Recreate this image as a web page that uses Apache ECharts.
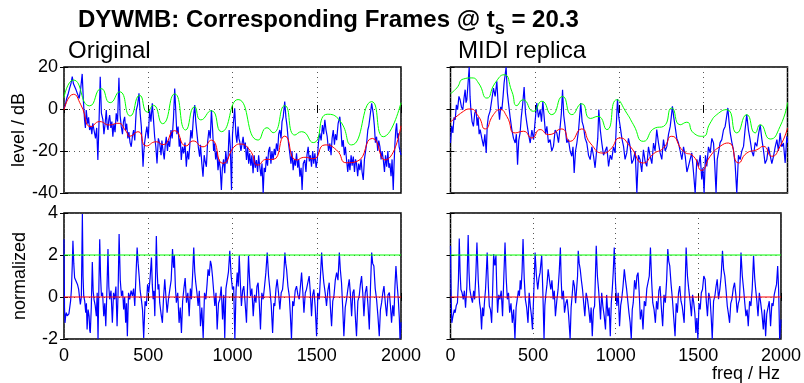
<!DOCTYPE html>
<html>
<head>
<meta charset="utf-8">
<script src="https://cdn.jsdelivr.net/npm/echarts@6/dist/echarts.min.js"></script>
<style>
  html, body { margin: 0; padding: 0; background: #fff; }
  #chart { width: 804px; height: 383px; }
</style>
</head>
<body>
<div id="chart"></div>
<script>
// ---- data: [freq Hz, value] ----
// original, level in dB (blue)
const origLevel = [[0,0.3],[8,2],[16,5],[24,7],[33,9.8],[41,12],[49,15.4],[56,12],[63,11.4],[72,9],[82,8.3],[90,5],[98,9],[108,16.7],[115,4],[122,-5.2],[127,-9],[132,-0.5],[140,-7],[146,-4],[152,-10],[160,-8],[165,-12],[171,-6.8],[178,-10],[187,-14],[194,-9],[201,-24.3],[208,-6],[215,15.4],[222,-2],[231,-5.2],[237,-12],[244,-7],[251,-0.5],[256,-8],[261,-10],[266,-5],[271,-2.9],[278,-9],[284,-6],[290,-13.2],[296,-7],[303,-11],[310,-2.1],[318,-6],[326,14.9],[333,-3],[340,-8.4],[347,-12],[353,-6],[360,-3.7],[366,-10],[372,-7],[379,-14],[385,-11],[392,-16],[399,-18],[406,-13],[413,-10],[420,-15],[425,-6],[429,-0.5],[437,2],[445,7.5],[452,-2],[459,-8.4],[464,-18],[469,-27.5],[474,-20],[478,-16.4],[485,-12],[492,-8.4],[500,-14],[508,-0.5],[516,-6],[524,2.7],[531,-5],[538,-13.2],[545,-18],[552,-25.9],[560,-14],[568,-16.4],[576,-22],[581,-15],[587,-19.5],[595,-24],[601,-17],[607,-13.2],[614,-20],[620,-15],[627,-18],[635,-10],[642,-14],[650,-4],[657,9.8],[664,-2],[670,-12],[677,-8.4],[684,-18],[690,-14],[696,-24.3],[703,-18],[710,-21.1],[718,-16],[726,-27.5],[733,-20],[740,-24],[746,-18],[753,-10],[760,-14],[768,-4],[776,1.9],[782,-6],[789,-11.6],[797,-18],[805,-22.7],[810,-17],[818,-26],[825,-32.2],[832,-22],[838,-25],[845,-27.5],[852,-16],[860,-10],[868,-14],[875,-0.5],[882,-10],[888,-20],[894,-16.4],[900,-24],[907,-20],[914,-29.1],[920,-24],[927,-28],[934,-38.6],[940,-28],[947,-24],[954,-30.6],[960,-20],[967,-26],[974,-22.7],[980,-10],[987,-18],[994,-38.6],[1000,-12],[1006,-6],[1013,0.3],[1020,-12],[1026,-16],[1033,-8.4],[1038,-14],
  [1043,-15.6],[1050,-20],[1056,-17],[1063,-13.2],[1070,-19],[1076,-16],[1083,-24.3],[1090,-18],[1096,-26],[1102,-21.1],[1109,-27],[1115,-22],[1122,-30.6],[1129,-22],[1135,-28],[1142,-24.3],[1149,-30],[1155,-22],[1162,-27.5],[1169,-32],[1175,-26],[1182,-40],[1188,-28],[1195,-30],[1201,-22.7],[1208,-27],[1214,-20],[1221,-18],[1228,-26],[1234,-20],[1241,-24.3],[1248,-19],[1254,-22],[1261,-16.4],[1268,-20],[1274,-12],[1281,-10],[1288,-14],[1294,-6],[1301,-3.7],[1310,3.5],[1317,-4],[1324,-8.4],[1332,-16],[1340,-21.1],[1347,-26],[1353,-20],[1360,-29.1],[1367,-24],[1373,-27],[1380,-21.1],[1387,-28],[1393,-24],[1400,-32.2],[1407,-28],[1413,-38.6],[1420,-26],[1429,-24.3],[1436,-30],[1442,-22],[1449,-18],[1456,-25],[1462,-22],[1469,-27.5],[1476,-20],[1482,-26],[1489,-21.1],[1496,-28],[1503,-24.3],[1510,-16],[1518,-11.6],[1526,-15],[1534,-7.6],[1541,-12],[1548,-5.2],[1555,-10],[1562,-13.2],[1570,-20],[1578,-16.4],[1585,-22],[1591,-14],[1598,-10],[1605,-17],[1611,-12],[1618,-14.8],[1627,-6.8],[1637,-3.7],[1644,-10],[1650,-18],[1657,-14.8],[1664,-22],[1670,-18],[1677,-24.3],[1684,-30],[1690,-24],[1697,-29.1],[1704,-22],[1710,-27],[1717,-22.7],[1724,-30],[1730,-24],[1736,-25.9],[1743,-32],[1749,-26],[1756,-29.1],[1763,-24],[1769,-30],[1776,-33.8],[1783,-24],[1790,-20],[1796,-16.4],[1803,-10],[1809,-8],[1816,-3.7],[1826,2.7],[1835,-2.1],[1842,-8],[1848,-16],[1855,-13.2],[1862,-20],[1868,-15],[1875,-18],[1882,-24],[1888,-20],[1895,-24.3],[1902,-30],[1908,-22],[1915,-27.5],[1922,-20],[1928,-28],[1934,-25.9],[1941,-32],[1947,-24],[1954,-38.6],[1959,-26],[1964,-16.4],[1969,-10],[1974,-6.8],[1979,-14],[1984,-11.6],[1989,-18],[1994,-18],[2000,-22]];
// original, upper envelope (green) and smoothed level (red)
const origEnvelope = [[0,5.5],[56,13.8],[152,1.5],[221,9.7],[274,3],[330,8.2],[393,-3.3],[449,6.5],[495,-1.5],[530,1.8],[585,-7],[657,7.2],[722,-10],[775,1.1],[812,-5.2],[874,-0.8],[934,-10.8],[1033,4.5],[1152,-14.8],[1205,-8.9],[1241,-11.3],[1310,1.6],[1370,-12.4],[1410,-10.8],[1479,-16],[1562,-2.5],[1637,-5.5],[1707,-17.1],[1826,3.5],[1895,-13.2],[2000,3]];
const origSmooth = [[0,-0.5],[56,7],[100,2],[162,-8.4],[211,-6],[270,-7.6],[320,-6.8],[370,-10.8],[389,-13],[439,-10.8],[489,-17.6],[547,-15.6],[587,-17],[656,-10.3],[725,-17.6],[765,-15.2],[825,-18],[874,-14.8],[943,-25.9],[1023,-17.1],[1043,-16.7],[1102,-19.5],[1152,-26.7],[1201,-24],[1241,-24],[1310,-12.9],[1380,-24.3],[1430,-23],[1479,-23.7],[1549,-17.1],[1617,-19.5],[1677,-25.6],[1737,-25],[1830,-14],[1905,-24.3],[2000,-8]];

// MIDI replica, level in dB (blue)
const replLevel = [[0,-16.2],[7,-8],[14,-11.4],[21,-4],[28,-5.1],[35,2],[42,-0.3],[50,6],[57,4.4],[65,1],[73,-0.3],[80,5],[87,9.2],[92,3],[97,4.4],[104,12],[111,20],[116,6],[121,-0.3],[128,-6],[136,-8.3],[144,-2],[152,-0.3],[158,-8],[164,-4],[170,-12],[176,-9.8],[186,-14],[196,-17.8],[204,-12],[212,-20.9],[218,-8],[225,-3.5],[235,-1],[245,4.4],[255,10],[265,6],[275,13.2],[283,2],[291,-5.1],[298,1],[305,-0.3],[312,6],[318,12.4],[324,16],[330,20],[337,8],[344,2.9],[354,-4],[364,-9.8],[374,-14],[384,-16.2],[391,-12],[398,-26.5],[405,-15],[413,-11.4],[420,-4],[428,2],[437,10.5],[445,-2],[453,-6.7],[463,-12],[473,-16.2],[483,-10],[493,-14.6],[502,-6],[512,2.8],[522,-4],[532,-0.3],[540,-6],[548,3.7],[556,-4],[564,-12],[572,-8.3],[581,-16],[591,-14.6],[601,-20],[611,-17.8],[621,-10],[631,-11.4],[641,-16],[651,-8.3],[658,-2],[665,9.2],[672,-3],[680,-8.3],[690,-16],[700,-14.6],[710,-20],[720,-22.5],[727,-18],[734,-30.5],[742,-20],[750,-16.2],[760,-10],[766,-4],[773,2.8],[781,-6],[789,-8.3],[799,-14],[809,-16.2],[819,-22],[829,-24.1],[839,-18],[849,-22.5],[858,-28],[868,-27.3],[874,-14],[880,-0.3],[889,-10],[898,-16.2],[908,-22],[918,-22.5],[928,-18],[938,-27.3],[948,-22],[957,-24.1],[967,-18],[977,-20.9],[984,-8],[991,4.8],[999,-4],[1007,-8.3],[1017,-14],[1027,-17.8],[1036,-24],[1046,-20.9],[1056,-14],[1066,-17.8],[1076,-26],[1086,-24.1],[1096,-20],[1106,-40],[1115,-22],[1125,-24.1],[1135,-30],[1145,-19.4],[1155,-25],[1165,-27.3],[1175,-18],[1185,-22.5],[1195,-26],[1205,-16.2],[1214,-20],[1224,-9.8],[1234,-16],[1244,-20.9],[1254,-24],[1264,-14.6],[1274,-20],[1284,-17.8],[1294,-12],[1304,-8.3],[1310,-4],[1317,1.3],[1325,-4],[1333,-8.3],[1343,-14],[1353,-16.2],[1363,-20],[1373,-24.1],[1383,-18],[1393,-22.5],[1403,-30],[1412,-27.3],[1422,-24],[1432,-20.9],[1442,-30],[1452,-40],[1462,-24],[1472,-27.3],[1482,-22],[1491,-33.6],[1498,-28],[1505,-40],[1513,-22],[1521,-27.3],[1531,-18],[1541,-20.9],[1551,-14],[1561,-16.2],[1568,-26],[1576,-40],[1583,-24],[1590,-20.9],[1600,-16],[1610,-14.6],[1620,-10],[1630,-8.3],[1638,-4],[1646,0.5],[1653,-6],[1660,-11.4],[1670,-16],[1679,-19.4],[1689,-26],[1699,-40],[1709,-22],[1719,-24.1],[1729,-20],[1739,-17.8],[1748,-10],[1758,-2.7],[1768,-10],[1778,-14.6],[1788,-20],[1798,-22.5],[1808,-16],[1818,-17.8],[1828,-12],[1838,-7.5],[1847,-14],[1857,-19.4],[1867,-26],[1877,-24.1],[1887,-18],[1897,-17.8],[1907,-26],[1917,-22.5],[1927,-18],[1937,-14.6],[1946,-20],[1956,-11.4],[1966,-18],[1976,-16.2],[1986,-25.7],[1996,-13],[2000,-16]];
const replEnvelope = [[0,7.3],[37,10],[77,14.3],[127,14.8],[166,12.4],[216,5.2],[265,12.4],[318,16.3],[364,8.4],[394,1.6],[429,4.4],[492,-1.1],[542,3.7],[601,-2.7],[665,6],[720,-2.7],[779,2.5],[830,-4.5],[875,-3.5],[928,-9.8],[987,4.4],[1046,-2],[1086,-7.5],[1145,-15.4],[1215,-9],[1264,-8.3],[1313,0.5],[1363,-7.5],[1402,-6.3],[1442,-11.4],[1497,-13],[1541,-6.7],[1580,-2.7],[1640,-0.3],[1699,-11.4],[1758,-2.7],[1808,-11.4],[1838,-7.5],[1897,-14.3],[1956,-8.3],[2000,3]];
const replSmooth = [[0,-6.3],[77,-1.1],[117,0],[166,-3.5],[206,-9.5],[255,-2.7],[295,-0.3],[334,-3.5],[384,-11.4],[433,-10.6],[483,-13.8],[532,-9.8],[582,-12.2],[661,-9.5],[710,-15.4],[779,-9.5],[829,-16.2],[908,-21],[947,-19.4],[1007,-13.8],[1066,-17.8],[1145,-25.7],[1205,-21.3],[1264,-18.6],[1313,-13],[1383,-20.2],[1442,-22.5],[1491,-29.2],[1541,-22.5],[1600,-17.8],[1650,-16.2],[1709,-25.7],[1758,-21],[1818,-19.4],[1857,-17.8],[1907,-22.5],[1956,-17.8],[2000,-9]];

// normalized spectra (blue)
const origNorm = [[0,2.75],[3,-0.5],[6,-1.23],[10,-0.9],[14,-0.75],[19,-0.9],[24,-0.83],[29,-0.8],[34,-0.75],[39,-0.2],[44,0.36],[49,1.5],[53,2.68],[58,1.6],[63,0.92],[68,0.9],[73,0.84],[80,0.6],[87,0.36],[92,0],[97,-0.35],[103,0],[109,3.95],[113,1],[117,0.05],[123,-0.2],[129,-0.75],[133,-0.3],[137,-1.55],[143,-0.6],[149,-0.91],[153,-1.6],[156,-1.71],[162,-0.5],[168,1.67],[173,0.3],[178,-0.11],[185,-0.4],[192,-0.91],[197,0.2],[202,-2],[207,0.5],[212,2.75],[217,1],[222,0.05],[229,0.2],[236,-0.91],[242,-0.3],[248,-1.39],[255,0.4],[261,2.28],[266,0.5],[271,-0.11],[279,0.3],[287,-1.23],[294,0.2],[301,-0.11],[308,0.5],[315,-1.39],[321,0.2],[327,3.0],[334,0.8],[341,0.05],[348,0.3],[354,-0.59],[360,0],[366,-1.23],[371,-0.3],[376,-1.87],[383,0.2],[390,-0.11],[398,0.3],[406,0.05],[413,0.4],[420,-0.43],[427,1],[434,2.36],[440,1.6],[446,1.0],[452,0.3],[459,-0.11],[466,-0.6],[473,-1.95],[481,-0.2],[489,-0.43],[496,0.6],[503,0.21],[511,0.9],[519,1.88],[524,0.6],[529,-0.11],[534,0.3],[539,-0.91],[543,0.8],[548,2.9],[553,1.2],[558,0.36],[563,0.6],[568,-0.27],[576,-0.8],[584,-1.23],[591,0],[598,0.84],[605,0],[612,-0.75],[620,-0.1],[628,0.36],[636,0.8],[644,2.28],[650,1.4],[655,1.96],[661,0.5],[667,-0.27],[675,0.2],[683,-1.23],[690,-0.5],[697,-1.71],[704,-0.2],[711,0.36],[719,0.9],[727,-0.27],[735,0.2],[743,-0.91],[750,0.4],[756,-0.11],[763,1],[770,2.36],[776,1.2],[782,0.68],[789,0.2],[796,-0.43],[803,0.3],[810,-1.39],[818,-0.5],[826,-1.95],[834,0.2],[842,-0.11],[849,0.6],[855,1.32],[862,1.0],[869,1.72],[875,1.5],[881,1.0],[888,0.3],[895,-0.43],[902,0.2],[909,-1.55],[917,-0.3],[925,-0.11],[933,0.5],[941,-1.07],[948,0.1],[954,-1.95],[961,0.4],[968,0.36],[976,1.2],[984,2.2],[992,1.0],[1000,0.36],[1007,0.5],[1014,-2],[1021,0.3],[1028,1.16],[1034,0.5],[1040,1.96],[1047,0.6],[1053,-0.43],[1060,0.3],[1067,0.52],[1075,-0.3],[1083,-1.23],[1089,0.4],[1095,1.96],[1101,0.9],[1107,0.05],[1115,0.4],[1123,-0.91],[1131,0.1],[1139,-0.27],[1145,0.5],[1152,0.68],[1159,-0.3],[1166,-1.55],[1174,0.2],[1182,-0.11],[1190,0.5],[1198,1.16],[1206,2.12],[1214,1],[1222,0.36],[1230,-0.4],[1238,-1.71],[1245,-0.3],[1251,-0.43],[1258,0.4],[1265,0.84],[1273,0.2],[1281,-0.59],[1289,0.2],[1297,0.36],[1304,1.0],[1311,2.12],[1316,1.6],[1321,1.32],[1329,0.5],[1337,0.05],[1343,-0.8],[1350,-2],[1357,-0.2],[1364,-0.43],[1372,0.3],[1380,0.52],[1388,0.1],[1396,-0.11],[1403,0.5],[1410,1.16],[1417,0.3],[1424,-0.75],[1432,0.2],[1439,0.36],[1447,0.4],[1455,1.0],[1462,0.2],[1469,-0.91],[1476,0.1],[1483,0.36],[1491,-0.5],[1499,-1.87],[1507,0.2],[1515,-0.11],[1522,1.0],[1529,2.12],[1535,1.3],[1542,0.68],[1550,0.2],[1558,-0.43],[1566,0.3],[1574,0.68],[1581,-0.5],[1588,-1.39],[1595,-0.2],[1602,0.05],[1610,0.8],[1618,1.16],[1626,0.8],[1634,2.12],[1640,1.3],[1647,0.68],[1654,-0.5],[1661,-1.87],[1669,-0.5],[1677,-0.11],[1685,0.4],[1693,0.84],[1700,0.1],[1707,-0.91],[1714,0.2],[1721,0.36],[1728,-0.8],[1736,-1.87],[1744,-0.2],[1752,0.05],[1759,0.6],[1766,1.0],[1773,0.2],[1780,-0.91],[1788,0.2],[1796,0.52],[1804,-0.4],[1812,-1.55],[1819,0.5],[1826,2.12],[1832,1.6],[1839,1.48],[1847,0.4],[1855,-0.11],[1863,-0.9],[1871,-1.87],[1878,-0.6],[1885,-0.27],[1892,0.2],[1899,0.52],[1907,-0.3],[1915,-0.91],[1923,0.1],[1931,0.21],[1938,-0.5],[1944,-1.23],[1951,-0.4],[1958,-0.91],[1964,0.5],[1970,1.48],[1977,0.6],[1984,-0.11],[1990,-1],[1994,-2],[2000,-1.2]];
const replNorm = [[0,2.44],[4,0],[8,-1.23],[13,-1.0],[18,-0.91],[23,-0.6],[28,-0.75],[35,-0.4],[42,-0.27],[48,0.8],[53,2.79],[58,1.2],[63,0.36],[70,0.2],[77,-0.11],[84,0.3],[91,-0.51],[99,0.5],[107,2.95],[112,1.2],[117,0.36],[125,0],[133,-0.27],[140,0.3],[146,-0.11],[153,1.0],[160,2.6],[168,0.8],[176,-0.27],[182,-0.6],[188,-1.55],[194,-0.5],[200,-0.91],[206,-0.2],[212,0.36],[217,1.2],[222,2.12],[229,0.5],[235,-0.43],[242,-0.6],[249,-1.23],[255,0.3],[261,2.04],[268,1.5],[275,1.96],[280,0.4],[285,-0.75],[292,0.1],[299,-0.11],[307,0.3],[315,-0.91],[322,0.8],[330,2.6],[337,0.9],[344,-0.11],[351,0.2],[358,-0.75],[366,-0.3],[374,-1.23],[382,-0.6],[390,-2],[397,-0.5],[404,-0.59],[411,0.3],[417,0.05],[422,0.8],[427,0.36],[433,1.2],[439,2.76],[446,0.9],[453,-0.11],[461,-0.5],[469,-1.23],[476,0.2],[483,-0.43],[490,-0.9],[496,-1.55],[504,0.2],[512,2.12],[520,1.0],[528,0.36],[535,0.9],[542,1.16],[547,1.6],[552,1.96],[559,0.2],[566,-2],[571,-0.4],[576,0.05],[584,0.6],[591,1.32],[599,0.8],[607,0.36],[614,0.8],[621,-0.11],[628,0.3],[635,-0.91],[643,-0.2],[651,0.36],[658,1.2],[665,2.36],[670,0.8],[675,-0.11],[683,0.3],[690,-0.75],[698,-0.3],[706,-0.11],[715,-0.9],[724,-2],[730,-0.5],[736,0.05],[743,0.8],[750,0.52],[757,-0.3],[764,-0.27],[769,1.0],[773,2.2],[779,1.6],[785,1.32],[792,0.8],[799,0.36],[806,-0.3],[813,-0.91],[821,0.2],[829,-0.11],[837,-0.6],[845,-1.23],[851,-0.5],[858,-1.87],[865,-0.6],[872,-0.43],[877,1.0],[882,2.44],[889,1.0],[896,0.36],[902,-0.3],[908,-1.07],[915,0.2],[922,-0.43],[930,-0.9],[938,-1.55],[945,0.1],[953,-0.91],[960,-0.5],[967,-1.87],[973,-0.3],[979,0.36],[985,1.2],[991,2.36],[999,0.6],[1007,-0.43],[1015,0.2],[1023,-1.39],[1030,-0.4],[1036,-0.11],[1044,0.5],[1052,1.32],[1059,0.8],[1066,0.36],[1073,-0.2],[1080,-0.75],[1087,-1.2],[1094,-2],[1100,-0.6],[1106,-0.27],[1114,0.8],[1122,0.36],[1128,1.0],[1135,1.16],[1142,0.2],[1149,-1.07],[1157,-0.6],[1165,-1.55],[1173,-0.2],[1181,-0.43],[1188,0.4],[1195,0.36],[1203,1.0],[1210,2.36],[1217,0.8],[1224,-0.27],[1232,-0.6],[1240,-1.23],[1247,-0.2],[1254,-0.59],[1261,0.3],[1268,0.52],[1276,-0.5],[1284,-1.39],[1292,0.1],[1300,-0.27],[1308,0.8],[1315,2.28],[1321,1.7],[1327,1.48],[1335,0.6],[1343,-0.11],[1351,-1.0],[1359,-1.87],[1366,-0.3],[1373,-0.75],[1380,0.2],[1387,0.52],[1395,-0.2],[1402,-0.43],[1408,-0.5],[1414,-1.23],[1420,0.5],[1426,2.36],[1434,1.0],[1442,0.36],[1450,-0.2],[1458,-0.91],[1465,0.1],[1472,-0.27],[1479,-0.8],[1485,-1.71],[1491,-1.0],[1497,-2],[1504,-0.3],[1511,-0.59],[1518,0.2],[1525,0.36],[1533,1.0],[1541,0.84],[1548,-0.2],[1555,-0.91],[1563,0.2],[1571,-0.11],[1578,-1.0],[1584,-2],[1592,-0.2],[1600,0.05],[1607,0.5],[1614,0.84],[1622,-0.1],[1630,0.36],[1638,1.0],[1646,2.2],[1653,1.3],[1660,1.0],[1668,0.3],[1675,-0.43],[1682,-0.8],[1689,-1.23],[1696,-0.3],[1703,-0.11],[1711,0.4],[1719,0.68],[1727,0.1],[1735,-0.75],[1742,-0.3],[1749,-0.11],[1754,1.0],[1758,2.12],[1766,1.0],[1774,0.36],[1781,-0.3],[1788,-0.91],[1795,-0.6],[1802,-1.39],[1810,-0.2],[1818,-0.43],[1826,0.4],[1834,1.96],[1841,0.9],[1847,0.36],[1854,-0.2],[1861,-0.91],[1869,0.2],[1877,-0.27],[1885,-0.8],[1893,-1.55],[1900,-0.6],[1907,-1.87],[1914,-0.8],[1921,-0.75],[1929,-0.2],[1937,-1.39],[1945,-0.3],[1952,-0.43],[1959,0.1],[1966,0.36],[1973,0.6],[1980,1.48],[1986,0.3],[1992,-2],[2000,-1.07]];
// normalized threshold (green) and zero line (red)
const normUpper = [[0,2],[2000,2]];
const normZero = [[0,0],[2000,0]];

const titleMain = 'DYWMB: Corresponding Frames @ t';
const titleSub = 's';
const titleTail = ' = 20.3';

let chartDom = document.getElementById('chart');
let myChart = echarts.init(chartDom);
const font = '"Liberation Sans", Arial, Helvetica, sans-serif';

const panels = [
    {left: 64, top: 67, yMin: -40, yMax: 20, yStep: 20, yLabels: true, xLabels: false, yName: 'level / dB', lines: [origLevel, origEnvelope, origSmooth]},
    {left: 450.5, top: 67, yMin: -40, yMax: 20, yStep: 20, yLabels: false, xLabels: false, yName: '', lines: [replLevel, replEnvelope, replSmooth]},
    {left: 64, top: 213, yMin: -2, yMax: 4, yStep: 2, yLabels: true, xLabels: true, yName: 'normalized', lines: [origNorm, normUpper, normZero]},
    {left: 450.5, top: 213, yMin: -2, yMax: 4, yStep: 2, yLabels: false, xLabels: true, yName: '', lines: [replNorm, normUpper, normZero]}
];
const lineColors = ['#0000ff', '#00ff00', '#ff0000'];
const gridDots = {type: [1, 4], color: '#555', width: 1};

let grids = [], xAxes = [], yAxes = [], series = [];
panels.forEach(function (p, i) {
    grids.push({left: p.left, top: p.top, width: 337, height: 126, show: true, borderColor: '#000', borderWidth: 1.5});
    // bottom / top x axes
    xAxes.push({
        gridIndex: i, type: 'value', min: 0, max: 2000, interval: 500,
        axisLine: {show: false},
        axisTick: {show: true, inside: true, length: 4, lineStyle: {color: '#000'}},
        axisLabel: {show: p.xLabels, color: '#000', fontSize: 18, fontFamily: font, margin: 8,
            formatter: function (v) { return String(v); }},
        splitLine: {show: true, lineStyle: gridDots}
    });
    xAxes.push({
        gridIndex: i, type: 'value', position: 'top', min: 0, max: 2000, interval: 500,
        axisLine: {show: false},
        axisTick: {show: true, inside: true, length: 4, lineStyle: {color: '#000'}},
        axisLabel: {show: false}, splitLine: {show: false}
    });
    // left / right y axes
    yAxes.push({
        gridIndex: i, type: 'value', min: p.yMin, max: p.yMax, interval: p.yStep,
        name: p.yName, nameLocation: 'middle', nameRotate: 90, nameGap: 35,
        nameTextStyle: {color: '#000', fontSize: 18, fontFamily: font},
        axisLine: {show: false},
        axisTick: {show: true, inside: true, length: 4, lineStyle: {color: '#000'}},
        axisLabel: {show: p.yLabels, color: '#000', fontSize: 18, fontFamily: font, margin: 6},
        splitLine: {show: true, lineStyle: gridDots}
    });
    yAxes.push({
        gridIndex: i, type: 'value', position: 'right', min: p.yMin, max: p.yMax, interval: p.yStep,
        axisLine: {show: false},
        axisTick: {show: true, inside: true, length: 4, lineStyle: {color: '#000'}},
        axisLabel: {show: false}, splitLine: {show: false}
    });
    p.lines.forEach(function (d, k) {
        series.push({
            type: 'line', xAxisIndex: 2 * i, yAxisIndex: 2 * i, data: d,
            symbol: 'none', smooth: k > 0 && i < 2 ? 0.6 : false,
            lineStyle: {color: lineColors[k], width: k === 0 ? 1.2 : 1},
            z: 2 + k
        });
    });
});

// title with subscript, laid out from measured text widths
let ctx = document.createElement('canvas').getContext('2d');
ctx.font = 'bold 24px ' + font;
const mainW = ctx.measureText(titleMain).width;
ctx.font = 'bold 18px ' + font;
const subW = ctx.measureText(titleSub).width;
const titleX = 78;

let option = {
    backgroundColor: '#fff',
    animation: false,
    grid: grids,
    xAxis: xAxes,
    yAxis: yAxes,
    series: series,
    graphic: [
        {type: 'text', x: titleX, y: 20, style: {text: titleMain, fill: '#000', fontSize: 24, fontWeight: 'bold', fontFamily: font, verticalAlign: 'middle'}},
        {type: 'text', x: titleX + mainW, y: 29, style: {text: titleSub, fill: '#000', fontSize: 18, fontWeight: 'bold', fontFamily: font, verticalAlign: 'middle'}},
        {type: 'text', x: titleX + mainW + subW, y: 20, style: {text: titleTail, fill: '#000', fontSize: 24, fontWeight: 'bold', fontFamily: font, verticalAlign: 'middle'}},
        {type: 'text', x: 68, y: 51, style: {text: 'Original', fill: '#000', fontSize: 24, fontFamily: font, verticalAlign: 'middle'}},
        {type: 'text', x: 458, y: 51, style: {text: 'MIDI replica', fill: '#000', fontSize: 24, fontFamily: font, verticalAlign: 'middle'}},
        {type: 'text', x: 746, y: 374, style: {text: 'freq / Hz', fill: '#000', fontSize: 18, fontFamily: font, align: 'center', verticalAlign: 'middle'}}
    ]
};

option && myChart.setOption(option);
</script>
</body>
</html>
